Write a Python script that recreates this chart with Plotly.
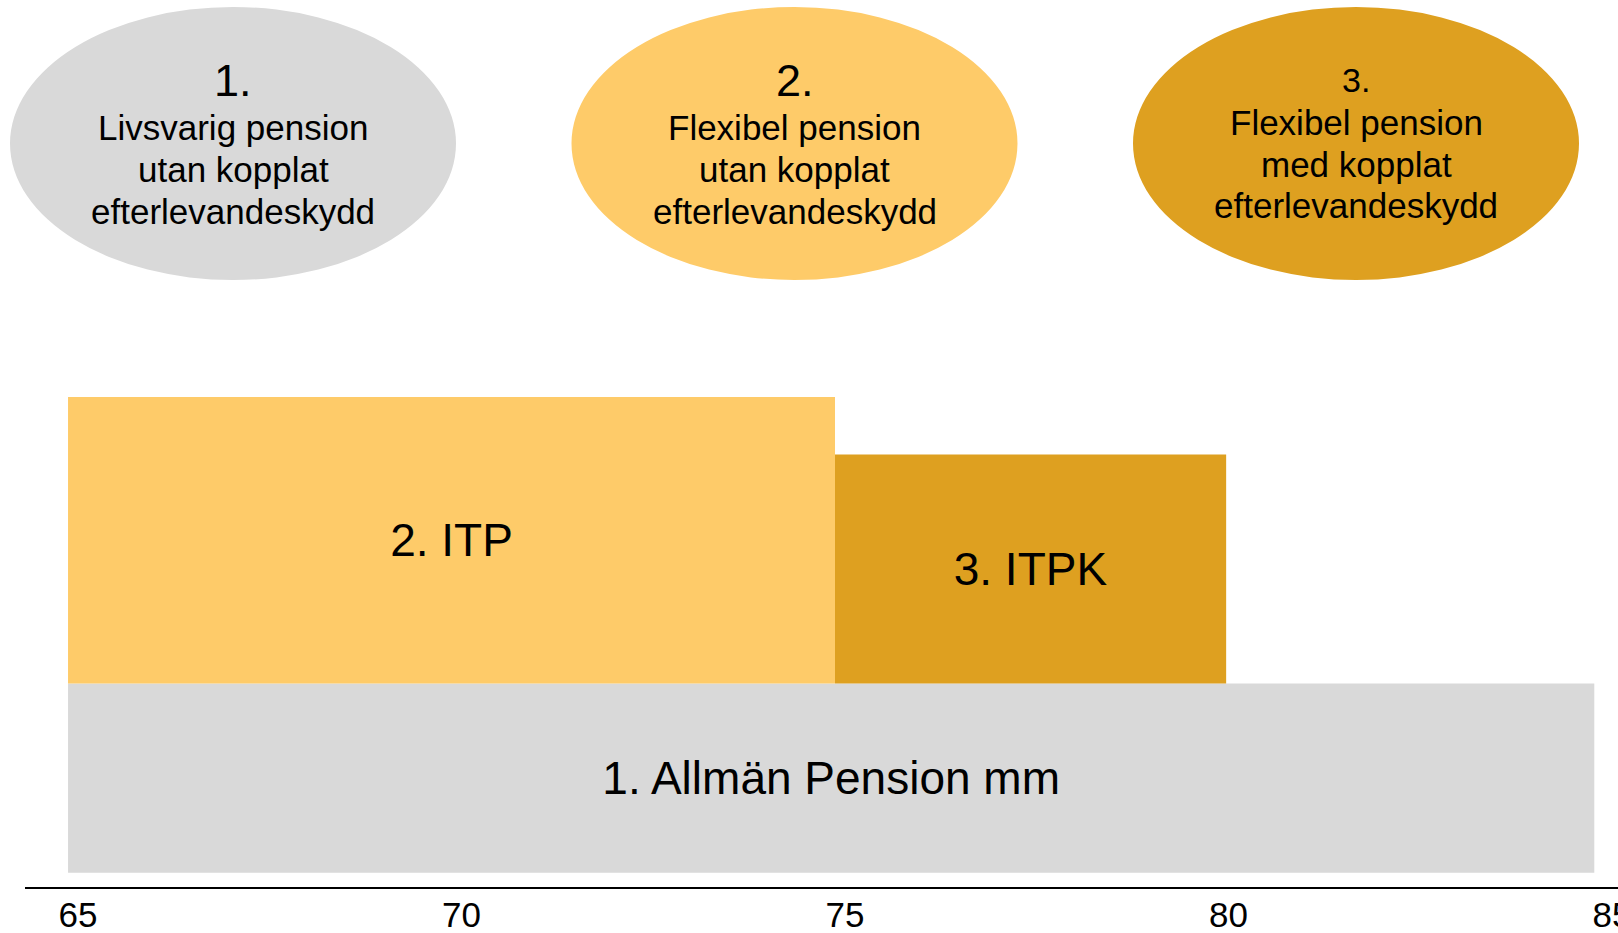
import plotly.graph_objects as go

# ---- data ----
bar_labels = ["1. Allmän Pension mm", "2. ITP", "3. ITPK"]
age_start = [65, 65, 75]
age_end = [84.9, 75, 80.1]
bar_base = [0, 3.3, 3.3]
bar_height = [3.3, 5.0, 4.0]
bar_colors = ["#D9D9D9", "#FECB69", "#DEA020"]

tick_vals = [65, 70, 75, 80, 85]
tick_text = ["65", "70", "75", "80", "85"]

bubble_numbers = ["1.", "2.", "3."]
bubble_lines = [
    ["Livsvarig pension", "utan kopplat", "efterlevandeskydd"],
    ["Flexibel pension", "utan kopplat", "efterlevandeskydd"],
    ["Flexibel pension", "med kopplat", "efterlevandeskydd"],
]
bubble_colors = ["#D9D9D9", "#FECB69", "#DEA020"]

# ---- layout geometry ----
W, H = 1618, 933
ML, MR, MT, MB = 25, 0, 0, 46
PW, PH = W - ML - MR, H - MT - MB
FONT = "Liberation Sans, Arial, sans-serif"


def px(x):
    return (x - ML) / PW


def py(y):
    return (H - MB - y) / PH


fig = go.Figure()
for lab, s, e, b, h, c in zip(bar_labels, age_start, age_end, bar_base, bar_height, bar_colors):
    fig.add_trace(go.Bar(
        x=[(s + e) / 2], width=[e - s], base=[b], y=[h],
        marker=dict(color=c, line=dict(width=0)),
        text=[lab], textposition="inside", insidetextanchor="middle",
        textangle=0, constraintext="none",
        textfont=dict(size=46, color="#000000", family=FONT),
        showlegend=False, hoverinfo="skip",
    ))

# bubbles (decorative ellipses with text)
centers_x = [233, 794.5, 1356]
for i, (num, lines, col) in enumerate(zip(bubble_numbers, bubble_lines, bubble_colors)):
    cx = centers_x[i]
    fig.add_shape(type="circle", xref="paper", yref="paper",
                  x0=px(cx - 223), x1=px(cx + 223), y0=py(280), y1=py(7),
                  fillcolor=col, line=dict(width=0), layer="below")
    if i < 2:
        nsize, nbase, baselines = 45, 96.7, [140, 182, 224]
    else:
        nsize, nbase, baselines = 34, 92, [135, 177, 218]
    bsize = 35
    fig.add_annotation(xref="paper", yref="paper", x=px(cx), y=py(nbase - 0.35 * nsize),
                       text=num, showarrow=False, xanchor="center", yanchor="middle",
                       font=dict(size=nsize, color="#000000", family=FONT))
    for ln, bl in zip(lines, baselines):
        fig.add_annotation(xref="paper", yref="paper", x=px(cx),
                           y=py(bl - 0.35 * bsize),
                           text=ln, showarrow=False, xanchor="center", yanchor="middle",
                           font=dict(size=bsize, color="#000000", family=FONT))

fig.update_layout(
    width=W, height=H,
    margin=dict(l=ML, r=MR, t=MT, b=MB, pad=0, autoexpand=False),
    paper_bgcolor="white", plot_bgcolor="white",
    barmode="overlay", showlegend=False,
    font=dict(family=FONT, color="#000000"),
    xaxis=dict(range=[64.439, 85.209], tickvals=tick_vals, ticktext=tick_text,
               showgrid=False, zeroline=False, showline=True, linecolor="#000000",
               linewidth=2, ticks="", ticklabelshift=10, ticklabelstandoff=-4,
               ticklabeloverflow="allow", automargin=False,
               tickfont=dict(size=35, color="#000000", family=FONT), fixedrange=True),
    yaxis=dict(range=[-0.25, 15.23], visible=False, fixedrange=True, automargin=False),
)

fig.write_html(
    "out.html",
    config={"displayModeBar": False},
    post_script="document.body.style.margin='0';document.body.style.overflow='hidden';",
)
